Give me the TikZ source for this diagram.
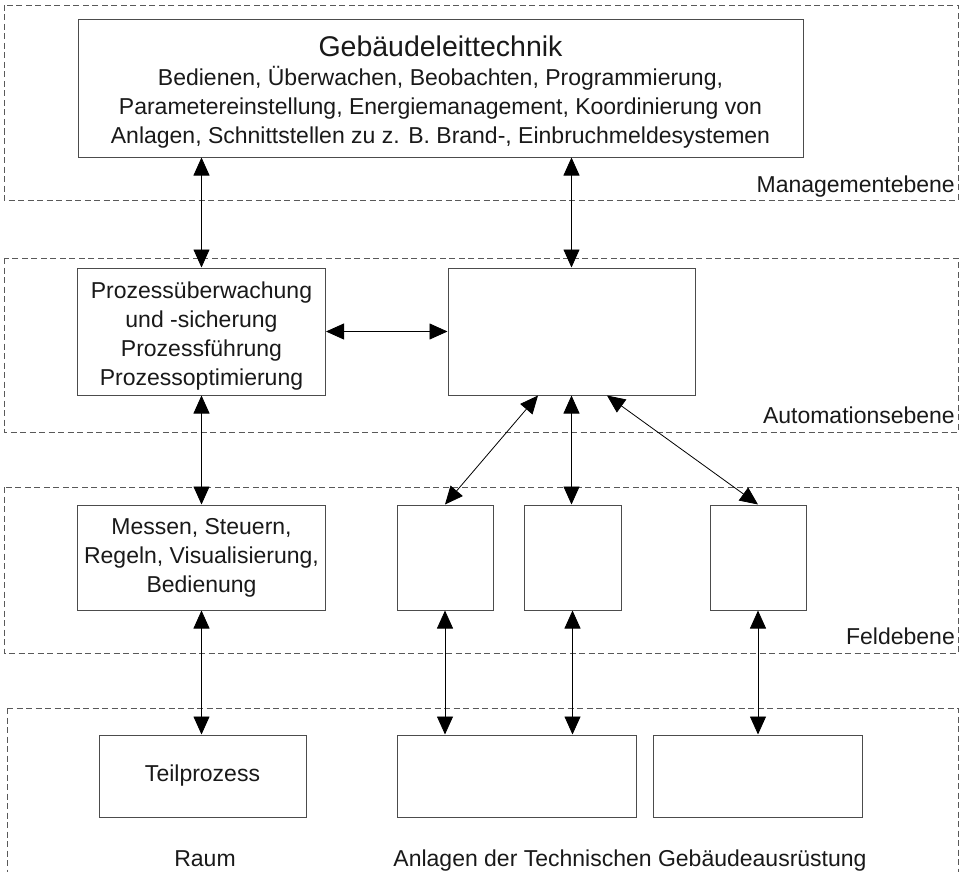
\documentclass[tikz,border=0pt]{standalone}
\usepackage{fontspec}
\setmainfont{Liberation Sans}
\usetikzlibrary{arrows.meta,calc}
\definecolor{boxc}{gray}{0.3}
\definecolor{dashc}{gray}{0.35}
\definecolor{txt}{gray}{0.1}
\begin{document}
\begin{tikzpicture}[x=1pt,y=-1pt,
  box/.style={draw=boxc,line width=1pt,fill=white,inner sep=0pt,align=center,text=txt,
    font=\fontsize{23}{29}\selectfont},
  level/.style={draw=dashc,line width=0.9pt,dash pattern=on 6pt off 3.5pt},
  lvl/.style={text=txt,font=\fontsize{23}{29}\selectfont,inner sep=0pt},
  arr/.style={line width=0.8pt,{Triangle[length=18pt,width=16pt]}-{Triangle[length=18pt,width=16pt]}}]
\useasboundingbox (0,0) rectangle (963,872);
% levels
\draw[level] (4,5) rectangle (958,200);
\draw[level] (4,258) rectangle (958,432);
\draw[level] (4,487) rectangle (958,653);
\draw[level] (7,708) -- (958,708) -- (958,880);
\draw[level] (7,708) -- (7,880);
\node[lvl,anchor=base east] (lm) at (955,192) {Managementebene};
\node[lvl,anchor=base east] (la) at (955,423) {Automationsebene};
\node[lvl,anchor=base east] (lf) at (955,644) {Feldebene};
% boxes
\node[box,minimum width=725pt,minimum height=137pt] (gl) at (440.5,88.5)
  {{\fontsize{28.5}{29}\selectfont\rule{0pt}{27pt}Gebäudeleittechnik}\\
   Bedienen, Überwachen, Beobachten, Programmierung,\\
   Parametereinstellung, Energiemanagement, Koordinierung von\\
   Anlagen, Schnittstellen zu z. B. Brand-, Einbruchmeldesystemen};
\node[box,minimum width=248pt,minimum height=127pt] (proc) at (201.5,331.5)
  {\rule{0pt}{25pt}Prozessüberwachung\\und -sicherung\\Prozessführung\\Prozessoptimierung};
\node[box,minimum width=247pt,minimum height=127pt] (auto) at (571.5,331.5) {};
\node[box,minimum width=248pt,minimum height=105pt] (mess) at (201.5,557.5)
  {Messen, Steuern,\\Regeln, Visualisierung,\\Bedienung};
\node[box,minimum width=96pt,minimum height=105pt] (f1) at (445,557.5) {};
\node[box,minimum width=97pt,minimum height=105pt] (f2) at (572.5,557.5) {};
\node[box,minimum width=96pt,minimum height=105pt] (f3) at (758,557.5) {};
\node[box,minimum width=207pt,minimum height=82pt] (teil) at (202.5,776) {Teilprozess};
\node[box,minimum width=239pt,minimum height=82pt] (b1) at (516.5,776) {};
\node[box,minimum width=209pt,minimum height=82pt] (b2) at (757.5,776) {};
\node[lvl,anchor=base] (raum) at (205,866) {Raum};
\node[lvl,anchor=base] (anl) at (630,866) {Anlagen der Technischen Gebäudeausrüstung};
% connectors
\draw[arr] (gl.south -| proc.north) -- (proc.north);
\draw[arr] (gl.south -| auto.north) -- (auto.north);
\draw[arr] (proc.east) -- (auto.west);
\draw[arr] (proc.south) -- (mess.north);
\draw[arr] (mess.south) -- (mess.south |- teil.north);
\draw[arr] ($(auto.south)+(-33.5,0)$) -- (f1.north);
\draw[arr] (auto.south) -- (auto.south |- f2.north);
\draw[arr] ($(auto.south)+(35.5,0)$) -- (f3.north);
\draw[arr] (f1.south) -- (f1.south |- b1.north);
\draw[arr] (f2.south) -- (f2.south |- b1.north);
\draw[arr] (f3.south) -- (f3.south |- b2.north);
\end{tikzpicture}
\end{document}
